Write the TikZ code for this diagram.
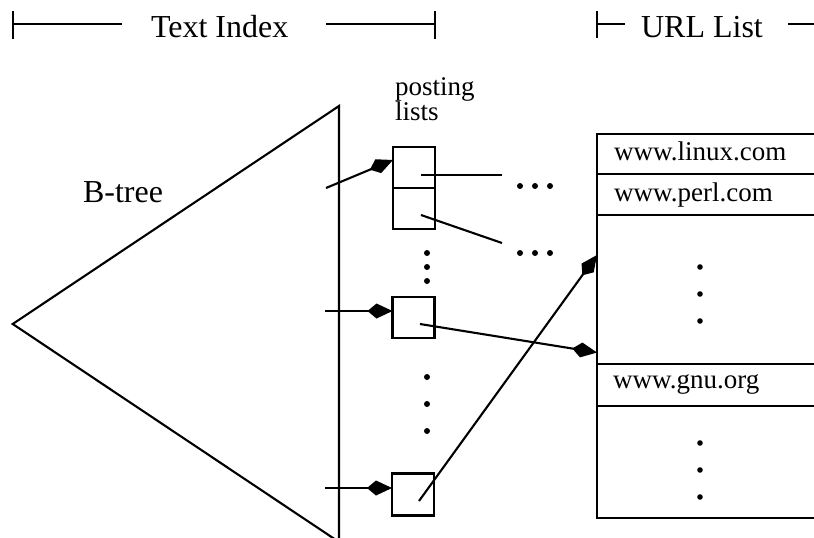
\documentclass[tikz,border=0pt]{standalone}
\usepackage{fontspec}
\setmainfont{Liberation Serif}
\usetikzlibrary{arrows.meta,calc}
\begin{document}
\begin{tikzpicture}[x=1pt,y=-1pt,line width=2.1pt,
  big/.style={font=\fontsize{32}{36}\selectfont, inner sep=0pt},
  small/.style={font=\fontsize{27}{25}\selectfont, inner sep=0pt},
  cell/.style={draw, rectangle, inner sep=0pt, outer sep=0pt,
    minimum width=42pt, minimum height=41pt},
  row/.style={draw, rectangle, inner sep=0pt, outer sep=0pt,
    anchor=north west, minimum width=240pt},
  ptr/.style={-{Kite[length=25pt,width=15pt,inset=9pt]}}]
\useasboundingbox (0,0) rectangle (814,538);
\clip (0,0) rectangle (814,538);

% section headers
\node[big, anchor=base west] (hidx) at (150,37.3) {Text Index};
\node[big, anchor=base west] (hurl) at (640,37) {URL List};
\draw (13,11) -- (13,39);
\draw (13,24) -- (122,24);
\draw (326,24) -- (435,24);
\draw (435,11) -- (435,39);
\draw (597,11) -- (597,38);
\draw (597,24) -- (625,24);
\draw (788,24) -- (816,24);

% the B-tree
\draw (339,106) -- (12.7,324) -- (339,542) -- cycle;
\node[big, anchor=base west] (btree) at (82,202.7) {B-tree};

% posting lists
\node[small, anchor=base west, align=left] (plab) at (394,120) {posting\\lists};
\node[cell] (p1a) at (414,167.5) {};
\node[cell] (p1b) at (414,208.5) {};
\node[cell] (p2) at (413.5,317.5) {};
\node[cell, minimum height=42pt] (p3) at (413,494.5) {};

% leaf pointers into the posting lists
\coordinate (l1) at (326,188);
\coordinate (l2) at (325,311);
\coordinate (l3) at (325,488);
\draw[ptr] (l1) -- (p1a.west |- 0,160);
\draw[ptr] (l2) -- (p2.west |- l2);
\draw[ptr] (l3) -- (p3.west |- l3);

% vertical ellipses between posting lists
\foreach \y in {253,267,281} \fill (427,\y) circle[radius=3pt];
\foreach \y in {377,404,431} \fill (427,\y) circle[radius=3pt];

% entries of the first posting list
\coordinate (c1) at (421,175);
\coordinate (c2) at (421,215);
\coordinate (d1) at (502,175);
\coordinate (d2) at (502,243);
\draw (c1) -- (d1);
\draw (c2) -- (d2);
\foreach \x in {520,535,550} {
  \fill (\x,186) circle[radius=3pt];
  \fill (\x,253) circle[radius=3pt];
}

% URL list
\node[row, minimum height=40pt] (r1) at (597,134) {};
\node[row, minimum height=41pt] (r2) at (597,174) {};
\node[row, minimum height=149pt] (r3) at (597,215) {};
\node[row, minimum height=42pt] (r4) at (597,364) {};
\node[row, minimum height=112pt] (r5) at (597,406) {};
\node[small, anchor=base west] (u1) at (613,160.7) {www.linux.com};
\node[small, anchor=base west] (u2) at (613,201.7) {www.perl.com};
\node[small, anchor=base west] (u3) at (612,388) {www.gnu.org};
\foreach \y in {267,294,321} \fill (700,\y) circle[radius=2.8pt];
\foreach \y in {443,470,497} \fill (700,\y) circle[radius=2.8pt];

% posting entries pointing to URLs
\coordinate (s2) at (420,324);
\coordinate (s3) at (419,501);
\draw[ptr] (s2) -- (r3.west |- 0,352.5);
\draw[ptr] (s3) -- (r3.west |- 0,255);
\end{tikzpicture}
\end{document}
